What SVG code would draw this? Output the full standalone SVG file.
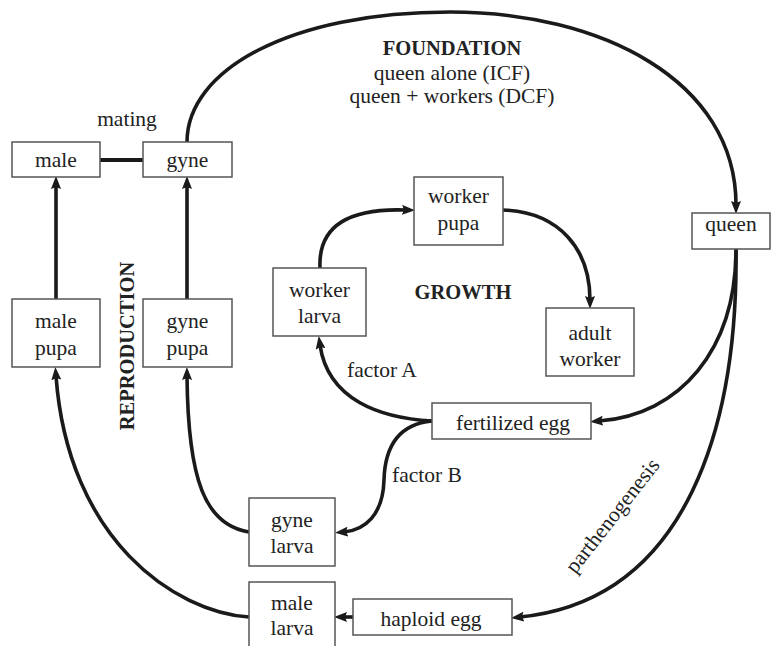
<svg xmlns="http://www.w3.org/2000/svg" width="772" height="646" viewBox="0 0 772 646">
<defs>
<marker id="ah" markerUnits="userSpaceOnUse" markerWidth="13" markerHeight="10" refX="4" refY="5" orient="auto">
<path d="M0,0 L13,5 L0,10 L2,5 z" fill="#1a1a1a"/>
</marker>
<style>
.box{fill:#fff;stroke:#555;stroke-width:1.5}
.t{font-family:'Liberation Serif','Times New Roman','DejaVu Serif',serif;font-size:21.5px;font-weight:normal;fill:#222;text-anchor:middle}
.b{font-family:'Liberation Serif','Times New Roman','DejaVu Serif',serif;font-size:20.5px;font-weight:bold;fill:#222;text-anchor:middle}
.c{fill:none;stroke:#1a1a1a;stroke-width:3.6;marker-end:url(#ah)}
</style>
</defs>
<rect width="772" height="646" fill="#fff"/>
<g id="connectors">
<path d="M100,160 L143,160" fill="none" stroke="#1a1a1a" stroke-width="4"/>
<path class="c" d="M56,299 L56,185"/>
<path class="c" d="M187,299 L187,185"/>
<path class="c" d="M187,142 C187,70 290,12 450,12 C600,12 736,80 736,205"/>
<path class="c" d="M320,268 C318,225 350,208 406,210"/>
<path class="c" d="M503,210 C560,212 590,250 590,300"/>
<path class="c" d="M736,249 C736,350 680,415 599,421"/>
<path class="c" d="M736,249 C738,420 690,600 520,617"/>
<path class="c" d="M432,421 C380,418 328,400 320,345"/>
<path class="c" d="M432,421 C400,424 385,445 384,480 C383,515 365,530 344,532"/>
<path class="c" d="M249,532 C205,525 188,480 187,376"/>
<path class="c" d="M249,617 C175,612 68,540 56,376"/>
<path class="c" d="M353,617 L343,617"/>
</g>
<g id="labels">
<text class="t" x="127" y="126">mating</text>
<text class="b" x="452" y="55">FOUNDATION</text>
<text class="t" x="452" y="80">queen alone (ICF)</text>
<text class="t" x="452" y="103">queen + workers (DCF)</text>
<text class="b" x="463" y="299">GROWTH</text>
<text class="b" transform="translate(134,346) rotate(-90)">REPRODUCTION</text>
<text class="t" x="347" y="377" style="text-anchor:start">factor A</text>
<text class="t" x="392" y="482" style="text-anchor:start">factor B</text>
<text class="t" transform="translate(618,520) rotate(-52)">parthenogenesis</text>
</g>
<g id="male"><rect class="box" x="12" y="142" width="88" height="35"/><text class="t" x="56" y="167">male</text></g>
<g id="gyne"><rect class="box" x="143" y="142" width="89" height="35"/><text class="t" x="187.5" y="167">gyne</text></g>
<g id="worker-pupa"><rect class="box" x="414" y="177" width="89" height="68"/><text class="t" x="458.5" y="203">worker</text><text class="t" x="458.5" y="230">pupa</text></g>
<g id="queen"><rect class="box" x="692" y="213" width="78" height="36"/><text class="t" x="731" y="231">queen</text></g>
<g id="male-pupa"><rect class="box" x="12" y="299" width="88" height="68"/><text class="t" x="56" y="328">male</text><text class="t" x="56" y="355">pupa</text></g>
<g id="gyne-pupa"><rect class="box" x="143" y="299" width="89" height="68"/><text class="t" x="187.5" y="328">gyne</text><text class="t" x="187.5" y="355">pupa</text></g>
<g id="worker-larva"><rect class="box" x="273" y="268" width="93" height="68"/><text class="t" x="319.5" y="297">worker</text><text class="t" x="319.5" y="323">larva</text></g>
<g id="adult-worker"><rect class="box" x="546" y="308" width="88" height="68"/><text class="t" x="590" y="340">adult</text><text class="t" x="590" y="366">worker</text></g>
<g id="fertilized-egg"><rect class="box" x="432" y="403" width="159" height="36"/><text class="t" x="513" y="430">fertilized egg</text></g>
<g id="gyne-larva"><rect class="box" x="249" y="498" width="86" height="68"/><text class="t" x="292" y="527">gyne</text><text class="t" x="292" y="553">larva</text></g>
<g id="male-larva"><rect class="box" x="249" y="582" width="86" height="66"/><text class="t" x="292" y="610">male</text><text class="t" x="292" y="635">larva</text></g>
<g id="haploid-egg"><rect class="box" x="353" y="599" width="159" height="36"/><text class="t" x="431" y="626">haploid egg</text></g>
</svg>
